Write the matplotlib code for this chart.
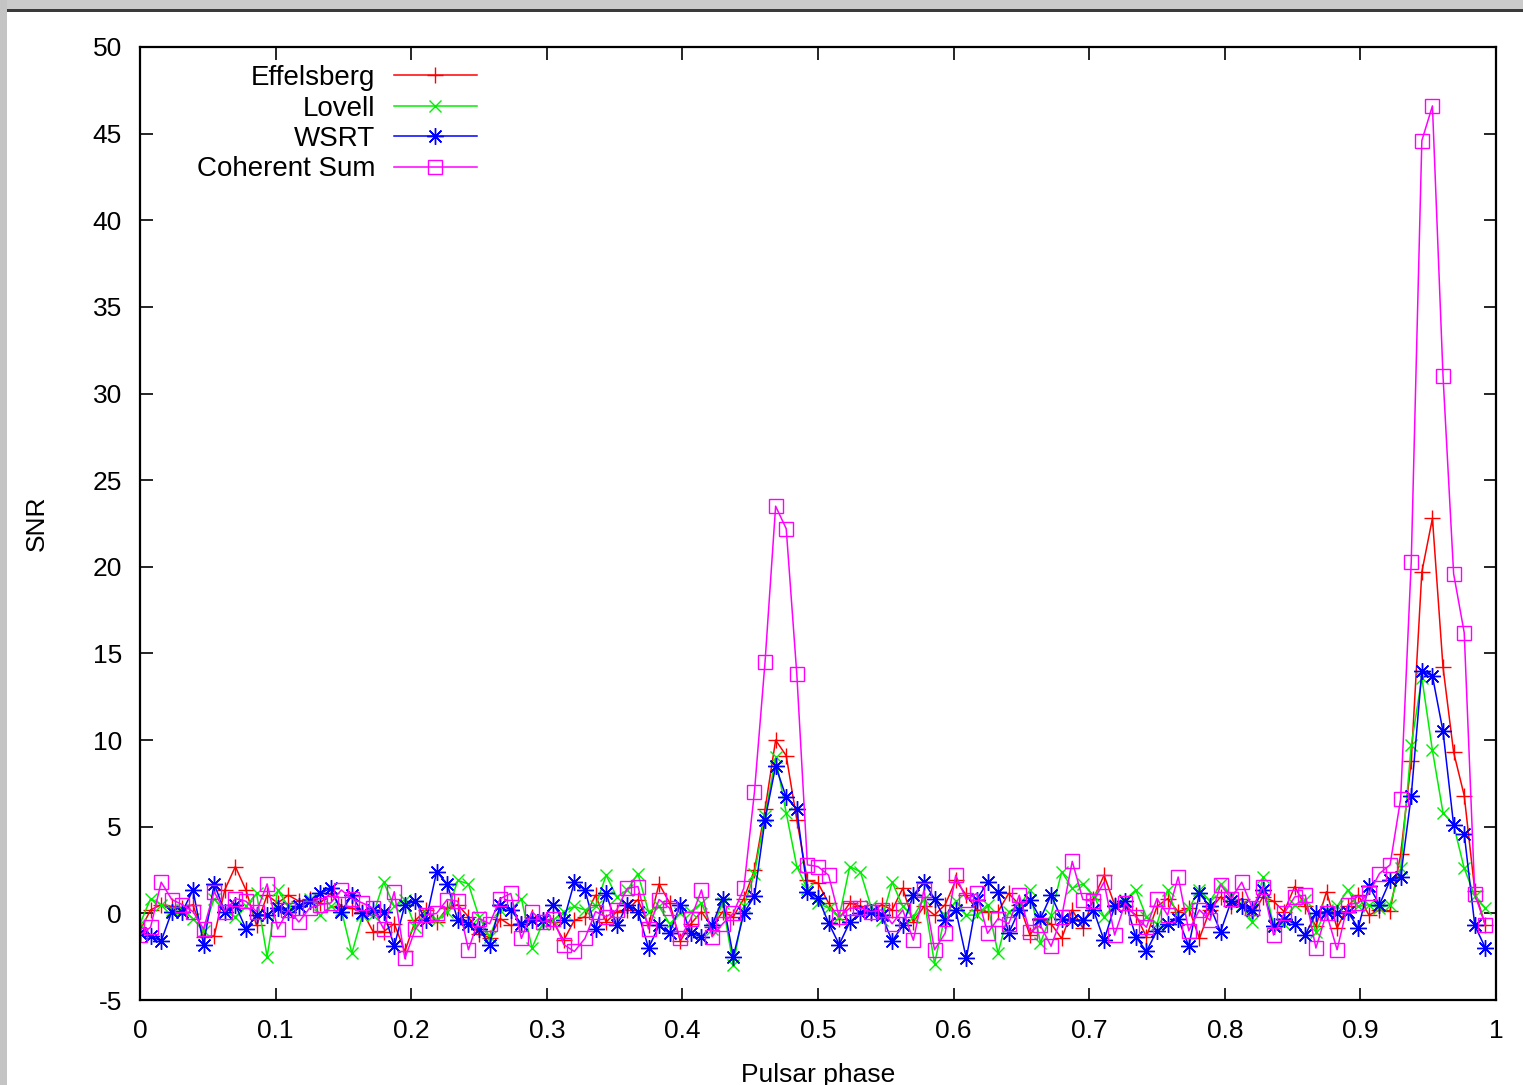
import numpy as np
import matplotlib.pyplot as plt
from matplotlib.patches import Rectangle

plt.rcParams['font.family'] = ['Liberation Sans', 'DejaVu Sans']
plt.rcParams['axes.unicode_minus'] = False

n_bins = 128
phase = np.arange(n_bins) / n_bins

effelsberg = [
    -1.0, 0.2, 0.5, 0.4, 0.3, 0.5, -1.35, -1.3, 1.35, 2.7,
    1.35, -0.7, 1.05, 0.6, 1.05, 0.7, 0.85, 0.6, 1.15, 0.4,
    0.3, 0.1, -1.05, -1.05, -0.6, -2.2, -0.4, 0.2, -0.5, 0.3,
    0.5, -0.2, -1.2, -1.4, -0.3, -0.7, -0.6, -0.2, -0.4, -0.5,
    -1.55, -0.4, -0.2, 1.05, -0.5, 0.1, 0.2, 0.8, -0.7, 1.7,
    0.6, -1.6, -0.6, 0.1, -0.8, 0.1, -0.2, 0.85, 2.5, 6.0,
    10.0, 9.1, 5.4, 1.9, 1.75, 0.6, -0.3, 0.6, 0.4, 0.0,
    0.5, 0.2, 1.45, -0.5, 0.4, -0.1, 0.5, 1.9, 1.05, 0.2,
    0.1, 0.1, 1.15, 0.5, -1.25, -0.4, -0.6, -1.45, 0.2, -0.85,
    0.85, 2.2, 0.5, 0.4, -0.1, -1.35, 0.4, 0.85, 0.1, 0.3,
    -1.45, 0.2, 0.95, 0.4, 0.85, -0.1, 0.95, 0.7, 0.1, 1.55,
    0.4, -0.75, 1.25, -0.85, 0.4, 1.05, -0.1, 0.2, 0.15, 3.4,
    8.8, 19.7, 22.8, 14.2, 9.3, 6.8, 1.3, -0.7,
]

lovell = [
    -0.6, 0.85, 0.5, 0.2, 0.2, -0.3, -1.0, 0.85, 0.1, -0.2,
    0.4, 1.15, -2.5, 1.35, 0.4, 0.4, 0.85, -0.1, 0.4, 0.2,
    -2.3, -0.1, -0.1, 1.8, 0.4, 0.8, -0.8, 0.1, -0.4, 0.1,
    1.9, 1.7, -0.2, -1.35, 0.2, 0.2, 0.85, -2.0, -0.6, -0.4,
    0.1, 0.4, 0.2, 0.4, 2.2, 0.95, 1.35, 2.3, 0.1, 0.4,
    -0.6, 0.0, 0.1, 0.6, -0.9, 0.6, -3.0, 0.4, 2.3, 5.6,
    9.0, 5.8, 2.7, 1.4, 0.6, 0.3, -0.2, 2.7, 2.4, 0.4,
    -0.4, 1.8, 0.4, -0.2, 0.85, -2.9, -0.1, 0.7, -0.1, -0.1,
    0.5, -2.3, 0.1, 0.4, 1.35, -1.7, -0.1, 2.4, 1.45, 1.7,
    1.05, -0.2, 0.5, 0.8, 1.35, -0.2, -0.6, 1.35, -0.3, 0.3,
    1.35, 0.7, 1.7, 1.05, 0.5, -0.5, 2.1, -0.7, -0.6, 0.5,
    0.8, -1.05, 0.2, 0.4, 1.35, 0.4, 0.5, 0.3, 0.5, 2.6,
    9.7, 13.6, 9.4, 5.8, 5.1, 2.6, 1.0, 0.3,
]

wsrt = [
    -1.15, -1.3, -1.6, 0.1, 0.1, 1.35, -1.8, 1.7, 0.1, 0.5,
    -0.9, -0.1, -0.1, 0.3, 0.1, 0.4, 0.7, 1.15, 1.45, 0.1,
    1.05, 0.0, 0.2, 0.1, -1.9, 0.5, 0.7, -0.4, 2.4, 1.7,
    -0.4, -0.6, -0.9, -1.8, 0.5, 0.2, -0.6, -0.4, -0.4, 0.5,
    -0.4, 1.8, 1.35, -0.9, 1.15, -0.7, 0.5, 0.1, -2.0, -0.7,
    -1.15, 0.5, -1.15, -1.35, -0.7, 0.85, -2.5, 0.0, 1.0, 5.4,
    8.5, 6.7, 6.0, 1.25, 0.9, -0.55, -1.8, -0.5, 0.0, 0.1,
    -0.1, -1.6, -0.7, 1.05, 1.8, 0.85, -0.4, 0.2, -2.6, 0.8,
    1.8, 1.25, -1.15, 0.2, 0.8, -0.3, 1.05, -0.3, -0.4, -0.4,
    0.2, -1.55, 0.4, 0.7, -1.35, -2.2, -1.0, -0.6, -0.3, -1.9,
    1.15, 0.4, -1.05, 0.7, 0.4, 0.2, 1.35, -0.75, -0.3, -0.6,
    -1.25, 0.0, 0.1, 0.0, 0.1, -0.85, 1.6, 0.5, 1.9, 2.1,
    6.8, 14.0, 13.7, 10.5, 5.1, 4.6, -0.7, -2.0,
]

coherent = [
    -1.25, -0.8, 1.8, 0.8, 0.5, 0.1, -0.9, 1.25, 0.1, 0.85,
    0.7, 0.1, 1.7, -0.9, 0.2, -0.5, 0.3, 0.5, 0.6, 1.35,
    0.85, 0.6, 0.3, -0.9, 1.25, -2.6, -0.9, -0.1, 0.0, 0.8,
    0.7, -2.1, -0.3, -0.6, 0.85, 1.15, -1.45, 0.1, -0.5, -0.3,
    -1.8, -2.2, -1.45, 0.1, -0.2, 0.2, 1.45, 1.55, -0.9, 0.8,
    0.3, -1.45, -0.3, 1.35, -1.35, -0.6, 0.0, 1.45, 7.0, 14.5,
    23.5, 22.2, 13.8, 2.8, 2.7, 2.2, -0.2, 0.3, 0.3, 0.1,
    0.2, -0.6, 0.2, -1.55, 1.35, -2.1, -1.15, 2.2, 0.8, 1.15,
    -1.15, -0.3, -0.6, 1.05, -1.05, -0.7, -1.9, -0.2, 3.0, 0.8,
    0.7, 1.8, -1.25, 0.6, -0.2, -0.8, 0.85, -0.1, 2.1, -1.0,
    0.2, -0.4, 1.65, 0.85, 1.8, 0.3, 1.55, -1.25, 0.0, 0.95,
    1.05, -2.0, 0.0, -2.1, 0.5, 0.6, 1.15, 2.3, 2.8, 6.6,
    20.3, 44.6, 46.6, 31.0, 19.6, 16.2, 1.1, -0.7,
]

series = [
    ('Effelsberg', effelsberg, '#ff0000', '+', 11),
    ('Lovell', lovell, '#00ee00', 'x', 9),
    ('WSRT', wsrt, '#0000ff', (8, 2, 0), 12),
    ('Coherent Sum', coherent, '#ff00ff', 's', 10),
]

x_ticks = np.arange(0, 1.01, 0.1)
x_labels = ['0', '0.1', '0.2', '0.3', '0.4', '0.5', '0.6', '0.7', '0.8', '0.9', '1']
y_ticks = np.arange(-5, 51, 5)
y_labels = [str(v) for v in range(-5, 51, 5)]

W, H = 1523, 1085
fig = plt.figure(figsize=(W / 100, H / 100), dpi=100)
fig.patch.set_facecolor('white')

# screenshot frame: grey band at top, grey strip on the left, dark rule
fig.patches.append(Rectangle((0, 1 - 9 / H), 1, 9 / H, transform=fig.transFigure,
                             facecolor='#cbcbcb', edgecolor='none', zorder=0))
fig.patches.append(Rectangle((0, 0), 7 / W, 1, transform=fig.transFigure,
                             facecolor='#c4c4c4', edgecolor='none', zorder=0))
fig.patches.append(Rectangle((7 / W, 1 - 12 / H), 1, 3 / H, transform=fig.transFigure,
                             facecolor='#3a3a3a', edgecolor='none', zorder=0))

ax = fig.add_axes([140 / W, 1 - 1000 / H, 1356 / W, 953 / H])

for name, vals, col, mk, ms in series:
    ax.plot(phase, vals, color=col, lw=1.1, marker=mk, markersize=ms,
            markeredgewidth=1.0, fillstyle='none', label=name)

ax.set_xlim(0, 1)
ax.set_ylim(-5, 50)
ax.set_xticks(x_ticks)
ax.set_xticklabels(x_labels)
ax.set_yticks(y_ticks)
ax.set_yticklabels(y_labels)
ax.tick_params(direction='in', length=9, width=1.2, top=True, right=True,
               labelsize=19)
ax.tick_params(axis='x', pad=14)
ax.tick_params(axis='y', pad=13)
for sp in ax.spines.values():
    sp.set_linewidth(1.6)

ax.set_ylabel('SNR', fontsize=19)
ax.yaxis.set_label_coords(-0.067, 0.5)
ax.set_xlabel('Pulsar phase', fontsize=19)
ax.xaxis.set_label_coords(0.5, -0.066)

ax.legend(loc='upper right', bbox_to_anchor=(0.2485, 0.981), frameon=False,
          markerfirst=False, fontsize=20, handlelength=3.0, handletextpad=0.65,
          labelspacing=0.16, borderpad=0, borderaxespad=0)

fig.savefig('out.png', dpi=100)
